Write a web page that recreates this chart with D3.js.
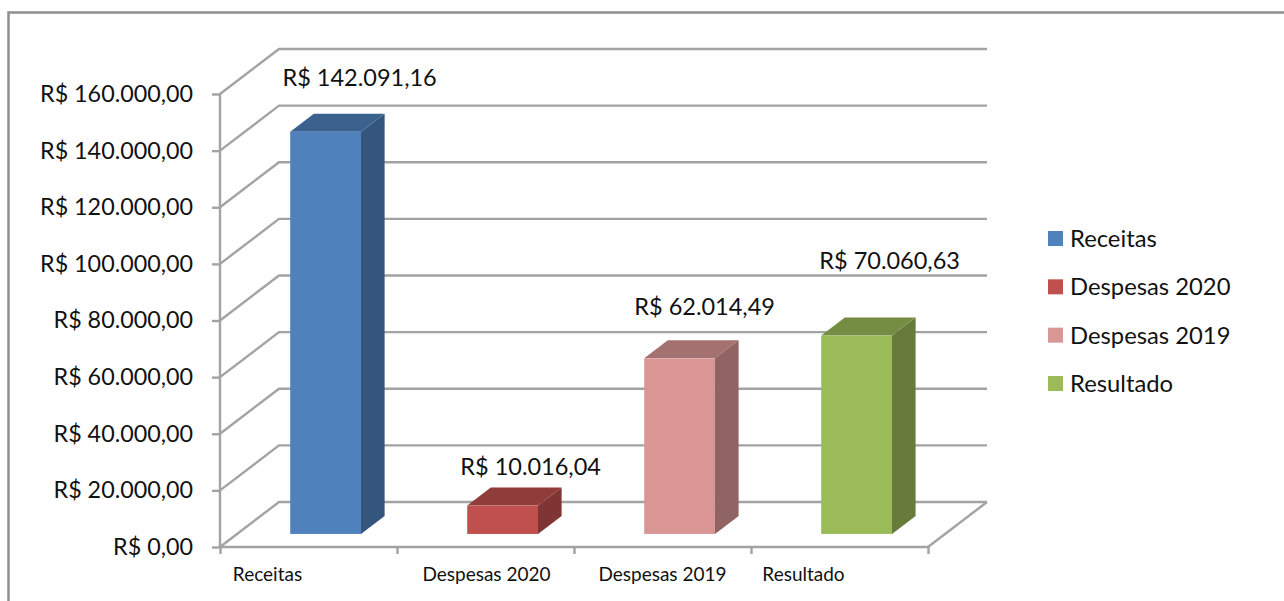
<!DOCTYPE html>
<html>
<head>
<meta charset="utf-8">
<script src="https://cdn.jsdelivr.net/npm/d3@7"></script>
<style>
    html, body { margin: 0; padding: 0; background: #fff; overflow: hidden; }
    text { font-family: Lato, "Open Sans", sans-serif; fill: #111; }
    .axis path { display: none; }
    .axis line { stroke: #a3a3a3; stroke-width: 2.4; }
</style>
</head>
<body>
<svg id="chart"></svg>
<script>
const categories = ["Receitas", "Despesas 2020", "Despesas 2019", "Resultado"];
const values = [142091.16, 10016.04, 62014.49, 70060.63];
const valueLabels = ["R$ 142.091,16", "R$ 10.016,04", "R$ 62.014,49", "R$ 70.060,63"];
const colors = ["#4f81bd", "#c0504d", "#d99694", "#9bbb59"];
const yTicks = [0, 20000, 40000, 60000, 80000, 100000, 120000, 140000, 160000];

const wsvg = 1284;
const hsvg = 601;

const svg = d3.select("#chart")
    .attr("width", wsvg)
    .attr("height", hsvg)
    .attr("viewBox", `0 0 ${wsvg} ${hsvg}`);

// outer frame, runs off the right and bottom of the picture
svg.append("path")
    .attr("d", "M8.5,601V12.5H1284")
    .attr("fill", "none")
    .attr("stroke", "#8f8f8f")
    .attr("stroke-width", 2.5);

const yScale = d3.scaleLinear([0, 160000], [547, 94]);
const xBand = d3.scaleBand(categories, [220, 928]).paddingInner(0.6).paddingOuter(0.3);
const xEdges = d3.scaleLinear([0, categories.length], [220, 928]);

// 3d offset of the back wall
const depthX = 59;
const depthY = -45;
const px = (x, d) => x + depthX * d;
const py = (y, d) => y + depthY * d;

// GRID
yTicks.forEach(t => {
    const y = yScale(t);
    svg.append("polyline")
        .attr("points", `220,${y} ${px(220, 1)},${py(y, 1)} ${px(928, 1)},${py(y, 1)}`)
        .attr("fill", "none")
        .attr("stroke", "#a3a3a3")
        .attr("stroke-width", 2.4);
});

// floor edge on the right
svg.append("line")
    .attr("x1", 928).attr("y1", yScale(0))
    .attr("x2", px(928, 1)).attr("y2", py(yScale(0), 1))
    .attr("stroke", "#a3a3a3")
    .attr("stroke-width", 2.4);

// AXES
const fmt = d => "R$ " + d.toLocaleString("pt-BR", { minimumFractionDigits: 2 });

const yAxisG = svg.append("g")
    .attr("class", "axis")
    .attr("transform", "translate(220, 0)")
    .call(d3.axisLeft(yScale).tickValues(yTicks).tickFormat(fmt).tickSize(8).tickPadding(19));
yAxisG.selectAll("text").style("font-size", "23.3px");

svg.append("line")
    .attr("x1", 220).attr("y1", yScale(160000))
    .attr("x2", 220).attr("y2", yScale(0))
    .attr("stroke", "#a3a3a3")
    .attr("stroke-width", 2.4);

svg.append("g")
    .attr("class", "axis")
    .attr("transform", `translate(0, ${yScale(0)})`)
    .call(d3.axisBottom(xEdges).ticks(categories.length).tickFormat("").tickSize(7));

svg.append("line")
    .attr("x1", 220).attr("y1", yScale(0))
    .attr("x2", 928).attr("y2", yScale(0))
    .attr("stroke", "#a3a3a3")
    .attr("stroke-width", 2.4);

// labels under the axis were moved by hand in the original
const catNudge = [-41, 1, 0, -36];
svg.selectAll(".catLabel")
    .data(categories)
    .enter()
    .append("text")
    .attr("class", "catLabel")
    .attr("x", (d, i) => xBand(d) + xBand.bandwidth() / 2 + catNudge[i])
    .attr("y", 581)
    .attr("text-anchor", "middle")
    .style("font-size", "19px")
    .text(d => d);

// BARS
const barFront = 0.29;
const barBack = 0.69;

categories.forEach((cat, i) => {
    const x0 = px(xBand(cat), barFront);
    const x1 = x0 + xBand.bandwidth();
    const top = py(yScale(values[i]), barFront);
    const bottom = py(yScale(0), barFront);
    const dx = depthX * (barBack - barFront);
    const dy = depthY * (barBack - barFront);
    const base = d3.rgb(colors[i]);

    const g = svg.append("g").attr("class", "bar");

    g.append("polygon")
        .attr("points", `${x1},${top} ${x1 + dx},${top + dy} ${x1 + dx},${bottom + dy} ${x1},${bottom}`)
        .attr("fill", base.darker(1.15));

    g.append("polygon")
        .attr("points", `${x0},${top} ${x0 + dx},${top + dy} ${x1 + dx},${top + dy} ${x1},${top}`)
        .attr("fill", base.darker(0.8));

    g.append("rect")
        .attr("x", x0)
        .attr("y", top)
        .attr("width", x1 - x0)
        .attr("height", bottom - top)
        .attr("fill", base);
});

// VALUE LABELS
const labelDx = [34, 28, 25, 33];
const labelDy = [-36, -21, -34, -57];
categories.forEach((cat, i) => {
    const x0 = px(xBand(cat), barFront);
    const topBack = py(yScale(values[i]), barBack);
    svg.append("text")
        .attr("class", "valueLabel")
        .attr("x", x0 + xBand.bandwidth() / 2 + labelDx[i])
        .attr("y", topBack + labelDy[i])
        .attr("dy", "0.35em")
        .attr("text-anchor", "middle")
        .style("font-size", "23.5px")
        .text(valueLabels[i]);
});

// LEGEND
const legendY = d3.scalePoint(categories, [238.5, 383.5]);
const legend = svg.selectAll(".legendItem")
    .data(categories)
    .enter()
    .append("g")
    .attr("class", "legendItem")
    .attr("transform", d => `translate(1048, ${legendY(d)})`);

legend.append("rect")
    .attr("y", -7.5)
    .attr("width", 15)
    .attr("height", 15)
    .attr("fill", (d, i) => colors[i]);

legend.append("text")
    .attr("x", 22)
    .attr("dy", "0.35em")
    .style("font-size", "23.8px")
    .text(d => d);
</script>
</body>
</html>
